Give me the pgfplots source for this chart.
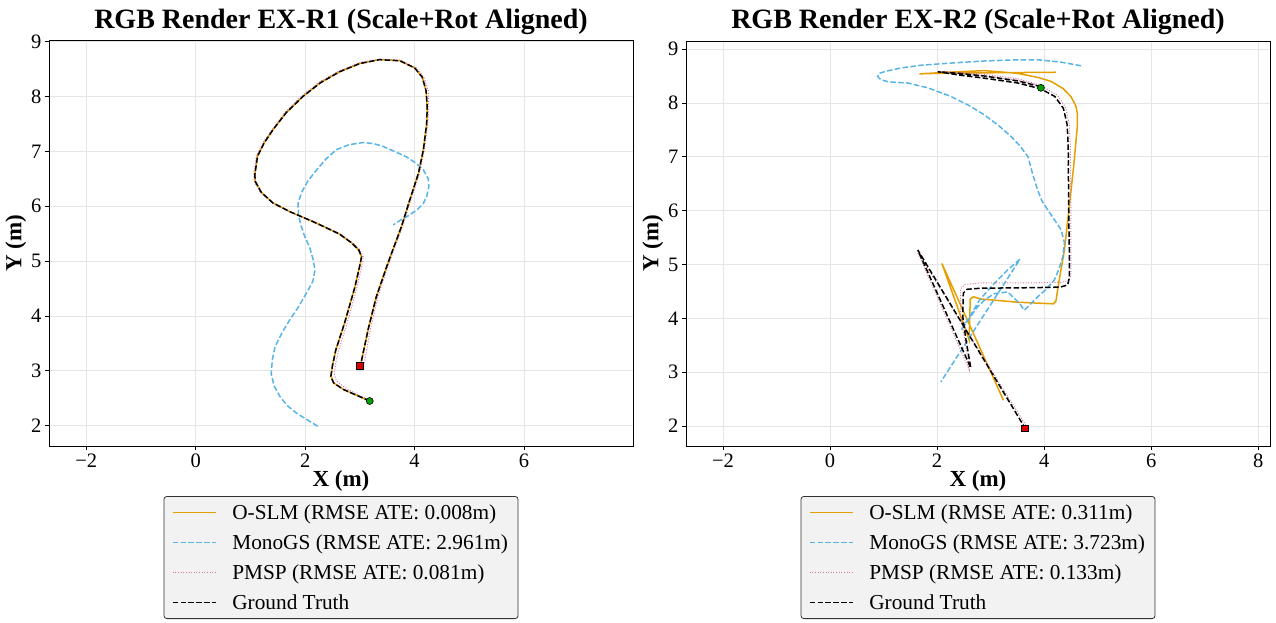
\documentclass[border=0pt]{standalone}
\usepackage{fontspec}
\setmainfont{Liberation Serif}
\usepackage{pgfplots}
\pgfplotsset{compat=1.18}
\usepackage{pgfplotstable}

\definecolor{cO}{HTML}{E69F00}
\definecolor{cB}{HTML}{56B4E9}
\definecolor{cP}{HTML}{CC79A7}
\definecolor{cG}{HTML}{00A000}
\definecolor{cR}{HTML}{DD0000}
\definecolor{gridc}{HTML}{E5E5E5}
\definecolor{legf}{HTML}{F2F2F2}

% ---------- Left plot (EX-R1) ----------
\pgfplotstableread{
x y
3.18 2.45
2.95 2.55
2.70 2.66
2.52 2.78
2.47 2.90
2.50 3.10
2.56 3.38
2.72 3.87
2.91 4.53
3.01 4.97
3.03 5.08
2.98 5.20
2.85 5.33
2.63 5.49
2.40 5.60
2.14 5.72
1.72 5.90
1.41 6.06
1.20 6.25
1.09 6.45
1.08 6.57
1.13 6.91
1.25 7.15
1.41 7.39
1.65 7.70
1.96 8.00
2.28 8.25
2.63 8.45
3.00 8.60
3.36 8.67
3.73 8.65
4.00 8.52
4.14 8.35
4.21 8.10
4.23 7.80
4.22 7.50
4.16 7.03
4.07 6.60
3.91 6.11
3.76 5.63
3.60 5.20
3.49 4.90
3.30 4.35
3.15 3.75
3.02 3.14
3.00 3.09
}\gtA

\pgfplotstableread{
x y
3.18 2.45
2.95 2.55
2.70 2.66
2.52 2.78
2.47 2.90
2.50 3.10
2.56 3.38
2.72 3.87
2.91 4.53
3.01 4.97
3.03 5.08
2.98 5.20
2.85 5.33
2.63 5.49
2.40 5.60
2.14 5.72
1.72 5.90
1.41 6.06
1.20 6.25
1.09 6.45
1.08 6.57
1.13 6.91
1.25 7.15
1.41 7.39
1.65 7.70
1.96 8.00
2.28 8.25
2.63 8.45
3.00 8.60
3.36 8.67
3.73 8.65
4.00 8.52
4.14 8.35
4.21 8.10
4.23 7.80
4.22 7.50
4.16 7.03
4.07 6.60
3.91 6.11
3.76 5.63
3.60 5.20
3.49 4.90
3.30 4.35
3.15 3.75
3.02 3.14
3.00 3.09
}\osA

\pgfplotstableread{
x y
3.18 2.46
2.95 2.57
2.72 2.70
2.57 2.82
2.53 2.95
2.56 3.15
2.62 3.40
2.77 3.88
2.95 4.53
3.05 4.97
3.06 5.08
3.00 5.21
2.86 5.34
2.63 5.50
2.40 5.61
2.14 5.73
1.72 5.90
1.40 6.06
1.18 6.25
1.07 6.45
1.06 6.57
1.11 6.92
1.23 7.16
1.40 7.40
1.64 7.72
1.95 8.02
2.27 8.27
2.63 8.47
3.00 8.62
3.36 8.68
3.74 8.66
4.03 8.52
4.17 8.35
4.25 8.10
4.26 7.80
4.24 7.50
4.18 7.03
4.09 6.60
3.93 6.11
3.78 5.63
3.62 5.20
3.51 4.90
3.33 4.35
3.19 3.75
3.08 3.14
3.06 3.09
}\pmA

\pgfplotstableread{
x y
2.23 1.99
2.05 2.10
1.84 2.23
1.67 2.37
1.54 2.53
1.43 2.73
1.38 2.95
1.40 3.20
1.45 3.44
1.58 3.70
1.72 3.93
1.88 4.17
2.02 4.41
2.14 4.63
2.18 4.84
2.14 5.05
2.08 5.26
1.99 5.45
1.93 5.63
1.88 5.82
1.87 6.05
1.93 6.24
2.05 6.46
2.21 6.66
2.38 6.86
2.57 7.03
2.80 7.12
3.06 7.16
3.25 7.14
3.42 7.09
3.65 6.99
3.85 6.90
4.03 6.78
4.16 6.66
4.25 6.50
4.26 6.36
4.22 6.18
4.16 6.05
4.05 5.94
3.91 5.84
3.75 5.75
3.61 5.66
}\mgA

% ---------- Right plot (EX-R2) ----------
\pgfplotstableread{
x y
3.94 8.30
3.51 8.41
2.88 8.50
2.40 8.55
2.01 8.58
2.40 8.52
2.88 8.46
3.51 8.37
3.94 8.26
4.20 8.12
4.36 7.90
4.43 7.60
4.45 7.20
4.46 6.00
4.47 5.27
4.47 4.75
4.44 4.62
4.30 4.58
3.80 4.57
2.82 4.56
2.56 4.54
2.49 4.47
2.48 4.03
2.54 3.60
2.63 3.08
1.64 5.27
3.64 1.97
}\gtB

\pgfplotstableread{
x y
4.22 8.57
3.00 8.56
2.00 8.55
1.67 8.54
2.20 8.57
2.88 8.60
3.50 8.55
3.90 8.47
4.13 8.40
4.35 8.27
4.50 8.12
4.59 7.95
4.62 7.81
4.62 7.56
4.55 6.80
4.45 5.90
4.38 5.27
4.28 4.70
4.22 4.32
4.17 4.27
3.50 4.30
2.82 4.36
2.68 4.40
2.62 4.36
2.61 4.00
2.60 3.60
2.09 5.02
3.24 2.48
}\osB

\pgfplotstableread{
x y
3.96 8.32
3.51 8.45
2.88 8.53
2.40 8.57
2.03 8.58
2.40 8.55
2.88 8.50
3.51 8.42
3.98 8.30
4.25 8.14
4.40 7.92
4.47 7.60
4.49 7.20
4.50 6.00
4.50 5.27
4.50 4.80
4.47 4.70
4.30 4.67
3.80 4.66
2.82 4.66
2.52 4.63
2.44 4.55
2.44 4.03
2.52 3.60
2.60 3.05
1.64 5.22
3.68 1.98
}\pmB

\pgfplotstableread{
x y
4.69 8.69
4.30 8.76
3.90 8.80
3.51 8.80
2.90 8.78
2.26 8.74
1.70 8.70
1.33 8.65
1.05 8.59
0.92 8.55
0.89 8.49
0.95 8.43
1.10 8.39
1.45 8.37
1.83 8.28
2.26 8.12
2.60 7.95
2.88 7.78
3.15 7.58
3.38 7.38
3.55 7.20
3.70 7.00
3.78 6.70
3.88 6.38
3.96 6.18
4.07 6.01
4.20 5.82
4.32 5.64
4.38 5.40
4.35 5.15
4.28 4.92
4.19 4.71
4.05 4.55
3.88 4.40
3.63 4.15
3.54 4.28
3.32 4.49
3.07 4.46
2.90 4.35
2.76 4.22
2.54 3.91
2.45 3.78
2.62 4.05
2.80 4.35
3.07 4.65
3.32 4.90
3.55 5.10
2.07 2.82
}\mgB

\pgfplotsset{
 traj/.style={
   scale only axis, width=584pt, height=405pt,
   anchor=south west,
   axis line style={line width=1pt},
   grid=major, grid style={gridc, line width=0.8pt},
   tick align=outside, tick pos=left, major tick length=4pt,
   tick style={black, line width=0.8pt},
   ticklabel style={font=\fontsize{20.5}{24}\selectfont},
   /pgf/number format/assume math mode=true,
   xlabel={\textbf{X (m)}}, ylabel={\textbf{Y (m)}},
   label style={font=\fontsize{23}{27}\selectfont},
   xlabel style={yshift=4pt},
   ylabel style={yshift=-2pt},
   title style={font=\fontsize{28}{32}\selectfont\bfseries, yshift=-3pt},
   legend style={at={(0.5,-0.1235)}, anchor=north, fill=legf, draw=black!80,
     line width=0.8pt, rounded corners=3pt, font=\fontsize{21.3}{25}\selectfont,
     row sep=9.7pt, column sep=14pt, inner xsep=8pt, inner ysep=6pt},
   legend cell align=left,
   legend image code/.code={\draw[#1, line width=1.4pt, rounded corners=0pt] (0pt,0pt) -- (43pt,0pt);},
   ytick={2,3,4,5,6,7,8,9},
 },
 sO/.style={color=cO, draw=cO, line width=1.5pt},
 sB/.style={color=cB, draw=cB, line width=1.5pt, dash pattern=on 5.5pt off 2.4pt},
 sP/.style={color=cP, draw=cP, line width=1pt, dash pattern=on 1pt off 1.65pt},
 sK/.style={color=black, draw=black, line width=1.5pt, dash pattern=on 5.5pt off 2.4pt},
}

\begin{document}
\begin{tikzpicture}
\useasboundingbox (0,0) rectangle (1276pt,622pt);
\begin{axis}[traj, at={(49pt,176pt)},
  xmin=-2.68, xmax=7.99, ymin=1.63, ymax=9.01,
  xtick={-2,0,2,4,6}, xticklabels={−2,0,2,4,6},
  title={RGB Render EX-R1 (Scale+Rot Aligned)}]
\addplot[sO] table {\osA};
\addlegendentry{O-SLM (RMSE ATE: 0.008m)}
\addplot[sB] table {\mgA};
\addlegendentry{MonoGS (RMSE ATE: 2.961m)}
\addplot[sP] table {\pmA};
\addlegendentry{PMSP (RMSE ATE: 0.081m)}
\addplot[sK] table {\gtA};
\addlegendentry{Ground Truth}
\addplot[only marks, mark=*, mark size=3.5pt, mark options={fill=cG, draw=black, line width=0.6pt}, forget plot] coordinates {(3.18,2.45)};
\addplot[only marks, mark=square*, mark size=3.3pt, mark options={fill=cR, draw=black, line width=0.6pt}, forget plot] coordinates {(3.00,3.09)};
\end{axis}
\begin{axis}[traj, at={(686pt,176pt)},
  xmin=-2.69, xmax=8.22, ymin=1.63, ymax=9.15,
  xtick={-2,0,2,4,6,8}, xticklabels={−2,0,2,4,6,8},
  title={RGB Render EX-R2 (Scale+Rot Aligned)}]
\addplot[sO] table {\osB};
\addlegendentry{O-SLM (RMSE ATE: 0.311m)}
\addplot[sB] table {\mgB};
\addlegendentry{MonoGS (RMSE ATE: 3.723m)}
\addplot[sP] table {\pmB};
\addlegendentry{PMSP (RMSE ATE: 0.133m)}
\addplot[sK] table {\gtB};
\addlegendentry{Ground Truth}
\addplot[only marks, mark=*, mark size=3.5pt, mark options={fill=cG, draw=black, line width=0.6pt}, forget plot] coordinates {(3.94,8.28)};
\addplot[only marks, mark=square*, mark size=3.3pt, mark options={fill=cR, draw=black, line width=0.6pt}, forget plot] coordinates {(3.64,1.96)};
\end{axis}
\end{tikzpicture}
\end{document}
